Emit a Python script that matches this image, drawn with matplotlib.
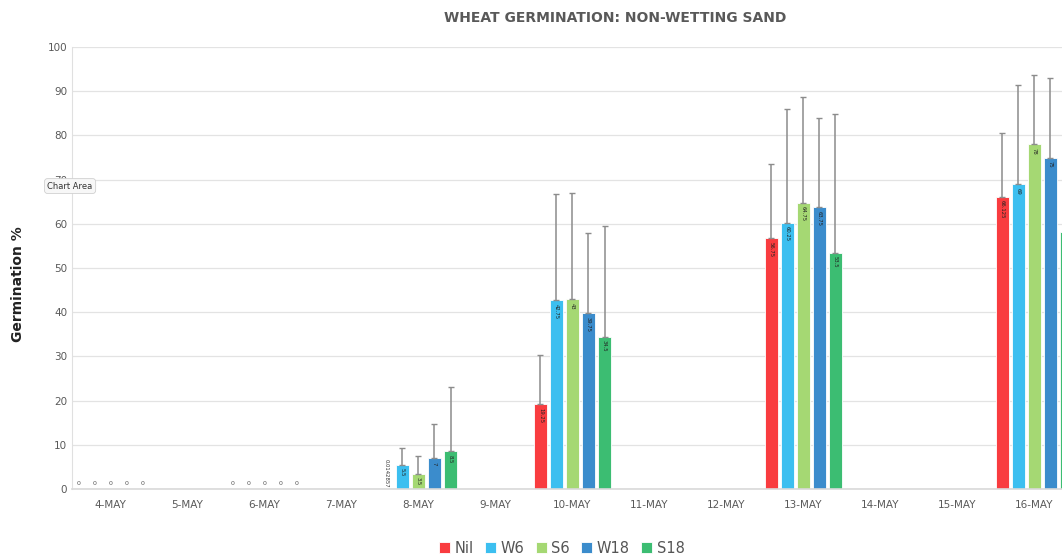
import numpy as np
import matplotlib
matplotlib.use('Agg')
import matplotlib.pyplot as plt

nan = np.nan

dates = ['4-MAY', '5-MAY', '6-MAY', '7-MAY', '8-MAY', '9-MAY', '10-MAY',
         '11-MAY', '12-MAY', '13-MAY', '14-MAY', '15-MAY', '16-MAY']
series = ['Nil', 'W6', 'S6', 'W18', 'S18']
colors = ['#f93c3f', '#3cbff0', '#a5d873', '#3b8ccc', '#3cbd72']

nil = [0, nan, 0, nan, 0.0142857, nan, 19.25, nan, nan, 56.75, nan, nan, 66.125]
w6 = [0, nan, 0, nan, 5.5, nan, 42.75, nan, nan, 60.25, nan, nan, 69]
s6 = [0, nan, 0, nan, 3.5, nan, 43, nan, nan, 64.75, nan, nan, 78]
w18 = [0, nan, 0, nan, 7, nan, 39.75, nan, nan, 63.75, nan, nan, 75]
s18 = [0, nan, 0, nan, 8.5, nan, 34.5, nan, nan, 53.5, nan, nan, 58.25]

# upper error amounts
nil_err = [0, 0, 0, 0, 0, 0, 11.0, 0, 0, 16.75, 0, 0, 14.4]
w6_err = [0, 0, 0, 0, 3.8, 0, 24.0, 0, 0, 25.75, 0, 0, 22.4]
s6_err = [0, 0, 0, 0, 4.0, 0, 24.0, 0, 0, 24.0, 0, 0, 15.6]
w18_err = [0, 0, 0, 0, 7.7, 0, 18.2, 0, 0, 20.3, 0, 0, 18.0]
s18_err = [0, 0, 0, 0, 14.5, 0, 25.0, 0, 0, 31.3, 0, 0, 12.0]

values = [nil, w6, s6, w18, s18]
errors = [nil_err, w6_err, s6_err, w18_err, s18_err]

fig = plt.figure(figsize=(10.62, 5.57), dpi=100)
ax = fig.add_axes([0.0678, 0.122, 0.9425, 0.7935])

x = np.arange(len(dates))
step = 0.208
width = 0.165

for i, (name, vals, errs, c) in enumerate(zip(series, values, errors, colors)):
    vals = np.array(vals, dtype=float)
    errs = np.array(errs, dtype=float)
    pos = x + (i - 2) * step
    ax.bar(pos, np.nan_to_num(vals), width, color=c, edgecolor='white',
           linewidth=0.6, label=name, zorder=2)
    has = (~np.isnan(vals)) & (errs > 0)
    ax.errorbar(pos[has], vals[has], yerr=[np.zeros(has.sum()), errs[has]],
                fmt='none', ecolor='#8c8c8c', elinewidth=1.1, capsize=2.3,
                capthick=1.0, zorder=3)
    for p, v in zip(pos, vals):
        if np.isnan(v):
            continue
        if v == 0:
            ax.text(p, 1.3, '0', ha='center', va='center', fontsize=4.5,
                    color='#555555', zorder=4)
        elif v < 1:
            ax.text(p, 0.4, '{:g}'.format(v), ha='center', va='bottom',
                    rotation=-90, fontsize=3.8, color='#333333', zorder=4)
        else:
            ax.text(p, v - 0.8, '{:g}'.format(v), ha='center', va='top',
                    rotation=-90, fontsize=3.8, color='#222222', zorder=4)

ax.set_xlim(-0.5, len(dates) - 0.5)
ax.set_ylim(0, 100)
ax.set_yticks(range(0, 101, 10))
ax.set_xticks(x)
ax.set_xticklabels(dates)
ax.tick_params(axis='both', length=0, labelsize=7.5, colors='#595959')
ax.tick_params(axis='x', pad=8)
ax.grid(axis='y', color='#e3e3e3', linewidth=0.9, zorder=0)
ax.set_axisbelow(True)
for side in ['top', 'right']:
    ax.spines[side].set_visible(False)
ax.spines['left'].set_color('#e0e0e0')
ax.spines['bottom'].set_color('#d9d9d9')
ax.spines['bottom'].set_linewidth(1.2)

fig.text(0.017, 0.49, 'Germination %', rotation=90, ha='center', va='center',
         fontsize=10, fontweight='bold', color='#222222')
fig.text(0.579, 0.968, 'WHEAT GERMINATION: NON-WETTING SAND', ha='center',
         va='center', fontsize=10, fontweight='bold', color='#595959')

fig.text(0.066, 0.666, 'Chart Area', ha='center', va='center', fontsize=6,
         color='#333333', zorder=10,
         bbox=dict(boxstyle='round,pad=0.35', fc='#f7f7f7', ec='#d0d0d0', lw=0.6))

handles, labels = ax.get_legend_handles_labels()
fig.legend(handles, labels, loc='center', bbox_to_anchor=(0.529, 0.016),
           ncol=5, frameon=False, fontsize=10.5, handlelength=0.75,
           handleheight=0.75, handletextpad=0.3, columnspacing=0.8,
           labelcolor='#555555')

fig.savefig('out.png', dpi=100)
